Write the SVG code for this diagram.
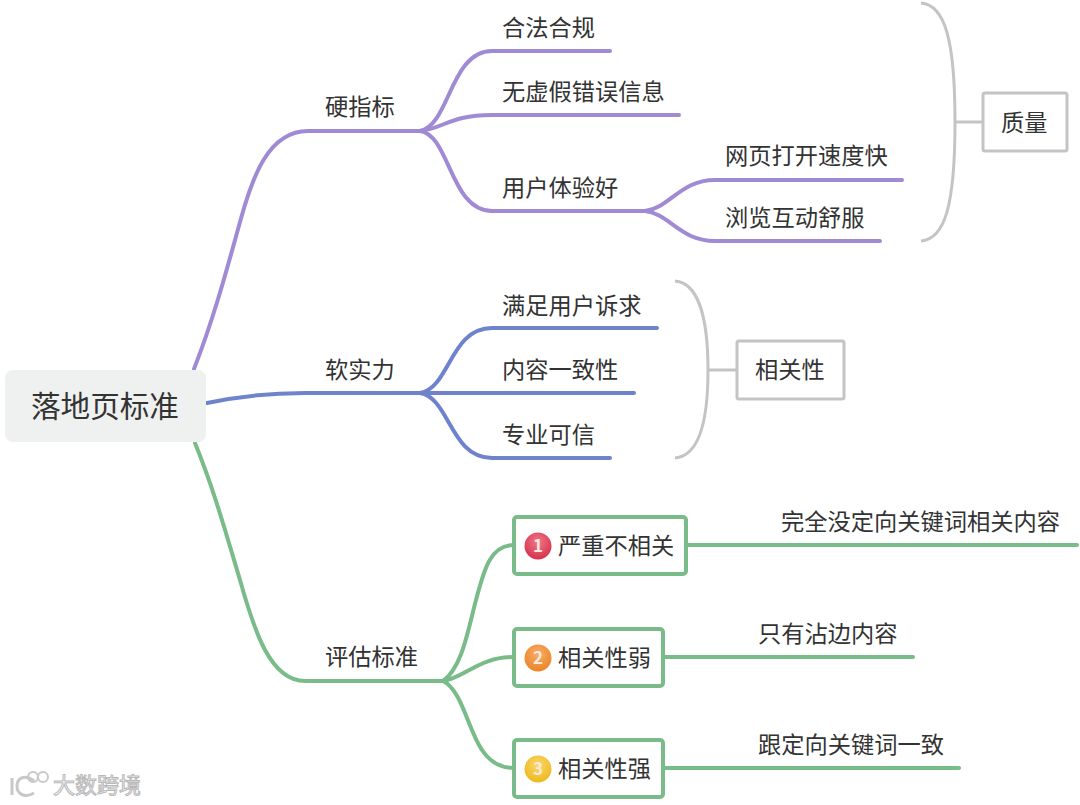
<svg xmlns="http://www.w3.org/2000/svg" width="1080" height="805" viewBox="0 0 1080 805">
<style>
text{font-family:"Noto Sans CJK SC","Noto Sans",sans-serif;font-size:23.25px;fill:#333;}
.c{fill:none;stroke-width:4;stroke-linecap:round;}
.p{stroke:#a08ad4;}
.b{stroke:#6f82cc;}
.g{stroke:#7abb8a;}
.s{fill:none;stroke:#c4c4c4;stroke-width:3;}
.box{fill:#fff;stroke:#c4c4c4;stroke-width:3;}
.gb{fill:#fff;stroke:#7abb8a;stroke-width:4;}
.n{font-size:17px;font-weight:700;fill:#fbe9e0;text-anchor:middle;}
.wm{font-size:22px;fill:#fff;stroke:#b8b8b8;stroke-width:1;}
</style>
<defs>
<radialGradient id="r1" cx="50%" cy="35%" r="65%"><stop offset="0" stop-color="#ee7a88"/><stop offset="1" stop-color="#d8304c"/></radialGradient>
<radialGradient id="r2" cx="50%" cy="35%" r="65%"><stop offset="0" stop-color="#f6ad68"/><stop offset="1" stop-color="#ec8428"/></radialGradient>
<radialGradient id="r3" cx="50%" cy="35%" r="65%"><stop offset="0" stop-color="#f9d86a"/><stop offset="1" stop-color="#eeb81e"/></radialGradient>
</defs>
<g id="connectors">
<path class="c p" d="M194 369C215 315 228 265 240 222C252 178 268 131 308 131H420"/>
<path class="c p" d="M420 131C450 125 450 51 492 51H610"/>
<path class="c p" d="M420 131C445 128 450 115 492 115H679"/>
<path class="c p" d="M420 131C450 135 450 211 492 211H645"/>
<path class="c p" d="M645 211C670 208 680 180 715 180H902"/>
<path class="c p" d="M645 211C670 214 680 241 715 241H880"/>
<path class="c b" d="M207 403C240 396 270 393 305 393H420"/>
<path class="c b" d="M420 393C450 388 450 328 492 328H657"/>
<path class="c b" d="M420 393H634"/>
<path class="c b" d="M420 393C450 398 450 458 492 458H610"/>
<path class="c g" d="M195 443C214 490 225 530 240 580C254 630 270 681 305 681H443"/>
<path class="c g" d="M443 681C462 668 468 630 476 600C484 570 490 545 514 545"/>
<path class="c g" d="M443 681C465 678 478 657 514 657"/>
<path class="c g" d="M443 681C462 690 468 730 482 750C490 762 500 768 514 768"/>
<path class="c g" d="M688 545H1077"/>
<path class="c g" d="M665 657H913"/>
<path class="c g" d="M665 768H959"/>
<path class="s" d="M921 3C945 5 955 40 955 122C955 205 945 239 921 241"/>
<path class="s" d="M955 122H983"/>
<path class="s" d="M675 281C699 283 708 320 708 370C708 420 699 456 675 458"/>
<path class="s" d="M708 370H737"/>
</g>
<g id="root"><rect x="5" y="370" width="201" height="72" rx="8" fill="#eff0f0"/><text x="31" y="417" style="font-size:29.6px">落地页标准</text></g>
<g id="n1"><text x="325" y="115">硬指标</text></g>
<g id="n2"><text x="502" y="36">合法合规</text></g>
<g id="n3"><text x="502" y="100">无虚假错误信息</text></g>
<g id="n4"><text x="502" y="196">用户体验好</text></g>
<g id="n5"><text x="725" y="164">网页打开速度快</text></g>
<g id="n6"><text x="725" y="226">浏览互动舒服</text></g>
<g id="n7"><rect class="box" x="983" y="93" width="84" height="58" rx="2"/><text x="1001" y="131">质量</text></g>
<g id="n8"><text x="325" y="378">软实力</text></g>
<g id="n9"><text x="502" y="314">满足用户诉求</text></g>
<g id="n10"><text x="502" y="378">内容一致性</text></g>
<g id="n11"><text x="502" y="443">专业可信</text></g>
<g id="n12"><rect class="box" x="737" y="341" width="107" height="58" rx="2"/><text x="755" y="378">相关性</text></g>
<g id="n13"><text x="325" y="665">评估标准</text></g>
<g id="n14"><rect class="gb" x="514" y="517" width="172" height="57" rx="3"/><circle cx="538" cy="546" r="13.5" fill="url(#r1)"/><text class="n" x="538" y="552">1</text><text x="558" y="554">严重不相关</text></g>
<g id="n15"><rect class="gb" x="514" y="629" width="149" height="57" rx="3"/><circle cx="538" cy="658" r="13.5" fill="url(#r2)"/><text class="n" x="538" y="664">2</text><text x="558" y="666">相关性弱</text></g>
<g id="n16"><rect class="gb" x="514" y="740" width="149" height="57" rx="3"/><circle cx="538" cy="769" r="13.5" fill="url(#r3)"/><text class="n" x="538" y="775">3</text><text x="558" y="777">相关性强</text></g>
<g id="n17"><text x="781" y="530">完全没定向关键词相关内容</text></g>
<g id="n18"><text x="758" y="642">只有沾边内容</text></g>
<g id="n19"><text x="758" y="753">跟定向关键词一致</text></g>
<g id="watermark"><path d="M12 778V795M34 781C24 773 17 779 17 786C17 795 26 798 34 793" fill="none" stroke="#c8c8c8" stroke-width="3"/><circle cx="33" cy="777" r="5" fill="none" stroke="#c8c8c8" stroke-width="2"/><circle cx="43" cy="777" r="5" fill="none" stroke="#c8c8c8" stroke-width="2"/><text class="wm" x="53" y="793">大数跨境</text></g>
</svg>
